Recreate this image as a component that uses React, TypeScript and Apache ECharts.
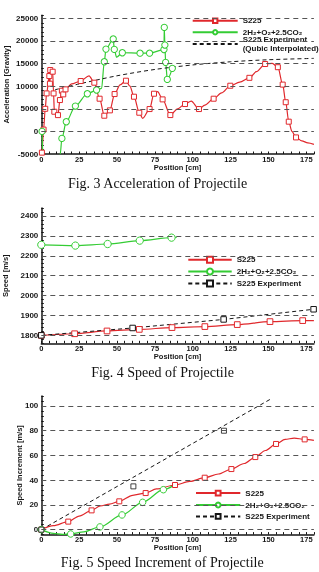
import React, { useEffect, useRef } from 'react';
import * as echarts from 'echarts';

const RED = '#e0282c';
const GREEN = '#34cc34';
const INK = '#161616';
const GRID = '#555555';
const SANS = '"Liberation Sans", Arial, Helvetica, sans-serif';
const SERIF = '"Liberation Serif", "Times New Roman", serif';

const S225 = 'S225';
const MIX = '2H₂+O₂+2.5CO₂';
const EXP = 'S225 Experiment';
const EXP_INTERP = 'S225 Experiment\n(Qubic Interpolated)';

// Fig. 3 — acceleration [G] vs position [cm]; third field = 1 where a symbol is plotted
const accS225: [number, number, number][] = [
  [0, -5000, 0], [0.4, -4700, 1], [1.5, 400, 1], [2.6, 5000, 1], [3.5, 8400, 1],
  [5.3, 12240, 1], [5.7, 10550, 1], [5.9, 13570, 1], [7.5, 13200, 1], [8.1, 8400, 1],
  [8.6, 4350, 1], [11, 3600, 1], [12.3, 6930, 1], [13.6, 9000, 1], [14.5, 8190, 1],
  [16, 9300, 1], [20, 10500, 0], [26, 11140, 1], [31.5, 12300, 0], [35, 10770, 1],
  [38.5, 7230, 1], [41.6, 3470, 1], [45.3, 4650, 1], [48.4, 8260, 1], [52, 10300, 0],
  [55.9, 11210, 1], [58.5, 10000, 0], [61.2, 7670, 1], [64.7, 4130, 1], [66.9, 2900, 0],
  [71.5, 4940, 1], [74.4, 8330, 1], [76.8, 8800, 0], [80.1, 7080, 1], [85.2, 3610, 1],
  [90, 5000, 0], [94.9, 6050, 1], [99, 6700, 0], [104.1, 4940, 1], [108, 5800, 0],
  [113.8, 7230, 1], [119, 8500, 0], [124.8, 10100, 1], [131, 10900, 0], [137.4, 11850, 1],
  [142, 13200, 0], [147.8, 14900, 1], [152.5, 15050, 0], [156.2, 14200, 1], [159.4, 10350, 1],
  [161.4, 6450, 1], [163.4, 2150, 1], [165.5, 0, 0], [168.2, -1330, 1], [172, -2100, 0],
  [176, -2550, 0], [180, -2880, 0],
];
const accMix: [number, number, number][] = [
  [0.5, 0, 1], [1.2, -6500, 0], [4, -11000, 0], [10, -10000, 0], [12.5, -5000, 0],
  [13.6, -1550, 1], [16.5, 2140, 1], [22.5, 5600, 1], [30.4, 8330, 1], [36.5, 9150, 1],
  [39.8, 9500, 0], [41.6, 15400, 1], [42.7, 18200, 1], [47.5, 20430, 1], [48.2, 18140, 1],
  [49.7, 16400, 0], [53.5, 17400, 1], [65.2, 17300, 1], [71.5, 17300, 1], [81, 18100, 1],
  [81.2, 23000, 1], [81.6, 19100, 1], [82.1, 15270, 1], [83.2, 11500, 1], [86.5, 13940, 1],
];
const accExpInterp: [number, number][] = [
  [9, 9200], [25, 10500], [50, 12300], [75, 13700], [100, 14700], [125, 15400], [150, 15850], [180, 16150],
];
const accGridLines = [0, 5000, 10000, 15000, 20000, 25000];

// Fig. 4 — speed [m/s] vs position [cm]
const speedS225: [number, number, number][] = [
  [0, 1800, 1], [22, 1808, 1], [43.4, 1822, 1], [64.7, 1830, 1], [86.3, 1839, 1],
  [108, 1844, 1], [129.4, 1854, 1], [151, 1869, 1], [172.6, 1874, 1], [180, 1874, 0],
];
const speedMix: [number, number, number][] = [
  [0, 2255, 1], [22.5, 2251, 1], [43.8, 2259, 1], [65, 2276, 1], [86, 2291, 1], [89.5, 2293, 0],
];
const speedExp: [number, number][] = [[0, 1800], [60.3, 1837], [120.4, 1880], [179.8, 1931]];
const speedGridLines = [1800, 1900, 2000, 2100, 2200, 2300, 2400];

// Fig. 5 — speed increment [m/s] vs position [cm]
const incS225: [number, number, number][] = [
  [0, 0, 1], [8, 3.2, 0], [17.8, 6.5, 1], [25, 11, 0], [33.2, 15.6, 1], [39, 19.2, 0],
  [45, 20.7, 0], [51.5, 22.9, 1], [60.3, 27.8, 0], [68.9, 29.6, 1], [76, 32.9, 0],
  [88.3, 36.1, 1], [98, 39, 0], [107.9, 42, 1], [117, 45, 0], [125.5, 49, 1], [134, 53.5, 0],
  [141.3, 58.7, 1], [148, 64, 0], [155, 69.3, 1], [161, 73, 0], [167, 74, 0], [173.9, 73, 1],
  [180, 72.2, 0],
];
const incMix: [number, number, number][] = [
  [0, 0, 1], [8, -3, 0], [14, -3.8, 0], [19.4, -3.5, 1], [28, -1.8, 0], [38.7, 2.2, 1],
  [53.3, 11.9, 1], [66.9, 22.1, 1], [80.6, 32.3, 1], [87.5, 35.8, 0],
];
const incExpPoints: [number, number][] = [[0, 0], [60.8, 35], [120.6, 80]];
const incExpTrend: [number, number][] = [[0, 0], [152, 106]];
const incGridLines = [0, 20, 40, 60, 80, 100];

const captions = [
  'Fig. 3 Acceleration of Projectile',
  'Fig. 4 Speed of Projectile',
  'Fig. 5 Speed Increment of Projectile',
];

// layout (pixels)
const GRIDS = [
  { left: 41.3, top: 15.2, width: 272.6, height: 138.8 },
  { left: 41.3, top: 208, width: 272.6, height: 135.3 },
  { left: 41.3, top: 396.1, width: 272.6, height: 138.5 },
].map((g) => ({ ...g, containLabel: false, outerBoundsMode: 'none' }));
const CAPTION_POS = [[157.5, 183.3], [162.5, 372.7], [162.2, 562.7]];

const marked = (rows: [number, number, number][]) =>
  rows.map(([x, y, m]) => (m ? [x, y] : { value: [x, y], symbol: 'none' }));

const labelStyle = { fontFamily: SANS, fontWeight: 'bold' as const, color: INK };

function xAxis(gridIndex: number) {
  return {
    type: 'value', gridIndex, min: 0, max: 180, interval: 5,
    name: 'Position [cm]', nameLocation: 'middle', nameGap: 9.5, nameMoveOverlap: false,
    nameTextStyle: { ...labelStyle, fontSize: 7.5, lineHeight: 7.5 },
    axisLine: { show: true, onZero: false, lineStyle: { color: INK, width: 1.5 } },
    axisTick: { show: true, inside: true, length: 2.5, lineStyle: { color: INK, width: 1 } },
    axisLabel: {
      ...labelStyle, fontSize: 7.5, lineHeight: 7.5, margin: 1.5,
      formatter: (v: number) => (Math.round(v) % 25 === 0 ? String(Math.round(v)) : ''),
    },
    splitLine: { show: false },
  };
}

function yAxis(gridIndex: number, min: number, max: number, step: number, labelStep: number, name: string, nameGap: number) {
  return {
    type: 'value', gridIndex, min, max, interval: step,
    name, nameLocation: 'middle', nameGap, nameMoveOverlap: false,
    nameTextStyle: { ...labelStyle, fontSize: 7.5 },
    axisLine: { show: true, onZero: false, lineStyle: { color: INK, width: 1.5 } },
    axisTick: { show: true, inside: true, length: 2.5, lineStyle: { color: INK, width: 1 } },
    axisLabel: {
      ...labelStyle, fontSize: 8, margin: 3,
      formatter: (v: number) => (Math.round(v) % labelStep === 0 ? String(Math.round(v)) : ''),
    },
    splitLine: { show: false },
  };
}

function gridLines(idx: number, values: number[]) {
  return {
    type: 'line', xAxisIndex: idx, yAxisIndex: idx, data: [], silent: true, z: 1,
    markLine: {
      silent: true, symbol: 'none', label: { show: false }, animation: false,
      lineStyle: { color: GRID, type: [5, 4], width: 1 },
      emphasis: { disabled: true },
      data: values.map((v) => ({ yAxis: v })),
    },
  };
}

function curve(idx: number, name: string, rows: any[], color: string, symbol: string, size: number, extra: any = {}) {
  return {
    type: 'line', name, xAxisIndex: idx, yAxisIndex: idx, data: rows, z: 3,
    smooth: 0.3, smoothMonotone: 'x', symbol, symbolSize: size,
    lineStyle: { color, width: 1.2 },
    itemStyle: { color: '#ffffff', borderColor: color, borderWidth: 1 },
    emphasis: { disabled: true },
    ...extra,
  };
}

function legend(name: string, left: number, top: number, itemWidth: number, itemHeight: number, padding: number[]) {
  return {
    data: [name], left, top, orient: 'vertical', itemWidth, itemHeight, padding,
    backgroundColor: '#ffffff', selectedMode: false,
    textStyle: { ...labelStyle, fontSize: 8, lineHeight: 8.5 },
  };
}

export default function App() {
  const ref = useRef<HTMLDivElement>(null);

  useEffect(() => {
    if (!ref.current) return;
    const chart = echarts.init(ref.current, null, { renderer: 'svg' });
    chart.setOption({
      animation: false,
      grid: GRIDS,
      xAxis: [xAxis(0), xAxis(1), xAxis(2)],
      yAxis: [
        yAxis(0, -5000, 25700, 1000, 5000, 'Acceleration [Gravity]', 30.8),
        yAxis(1, 1760, 2440, 20, 100, 'Speed [m/s]', 31.5),
        yAxis(2, -4, 108, 4, 20, 'Speed Increment [m/s]', 17.5),
      ],
      legend: [
        legend(S225, 189.7, 16.45, 45, 5.5, [0, 2, 0, 2]),
        legend(EXP_INTERP, 189.7, 35.5, 45, 5.5, [0, 2, 0, 2]),
        legend(MIX, 189.7, 28.05, 45, 5.5, [0, 2, 0, 2]),
        legend(S225, 185.3, 254.5, 43.4, 7.5, [1, 2, 1, 2]),
        legend(EXP, 185.3, 278.2, 43.4, 7.5, [1, 2, 1, 2]),
        legend(MIX, 185.3, 266.2, 43.4, 7.5, [1, 2, 1, 2]),
        legend(S225, 193, 487.8, 44.3, 6, [1, 2, 1, 2]),
        legend(EXP, 193, 511.2, 44.3, 6, [1, 2, 1, 2]),
        legend(MIX, 193, 499.8, 44.3, 6, [1, 2, 1, 2]),
      ],
      graphic: {
        elements: captions.map((text, i) => ({
          type: 'text', x: CAPTION_POS[i][0], y: CAPTION_POS[i][1], silent: true,
          style: { text, textAlign: 'center', textVerticalAlign: 'middle', font: `14px ${SERIF}`, fill: '#111111' },
        })),
      },
      series: [
        gridLines(0, accGridLines),
        gridLines(1, speedGridLines),
        gridLines(2, incGridLines),

        curve(0, S225, marked(accS225), RED, 'rect', 5),
        curve(0, MIX, marked(accMix), GREEN, 'circle', 6.3),
        {
          type: 'line', name: EXP_INTERP, xAxisIndex: 0, yAxisIndex: 0, data: accExpInterp, z: 3,
          smooth: 0.3, showSymbol: false, symbol: 'circle',
          itemStyle: { color: 'rgba(0,0,0,0)' },
          lineStyle: { color: INK, width: 1, type: [4, 3] },
          emphasis: { disabled: true },
        },

        curve(1, S225, marked(speedS225), RED, 'rect', 5.7),
        curve(1, MIX, marked(speedMix), GREEN, 'circle', 7.3),
        curve(1, EXP, speedExp, INK, 'rect', 5.5, { smooth: false, lineStyle: { color: INK, width: 1, type: [4, 3] } }),

        curve(2, S225, marked(incS225), RED, 'rect', 5),
        curve(2, MIX, marked(incMix), GREEN, 'circle', 6.5),
        curve(2, EXP, incExpTrend, INK, 'rect', 5, { smooth: false, showSymbol: false, lineStyle: { color: INK, width: 1, type: [4, 3] } }),
        {
          type: 'scatter', name: 'S225 Experiment points', xAxisIndex: 2, yAxisIndex: 2, data: incExpPoints, z: 4,
          symbol: 'rect', symbolSize: 5,
          itemStyle: { color: '#ffffff', borderColor: INK, borderWidth: 1 },
          emphasis: { disabled: true },
        },
      ],
    });
    return () => chart.dispose();
  }, []);

  return <div ref={ref} style={{ position: 'fixed', left: 0, top: 0, width: 319, height: 572 }} />;
}
